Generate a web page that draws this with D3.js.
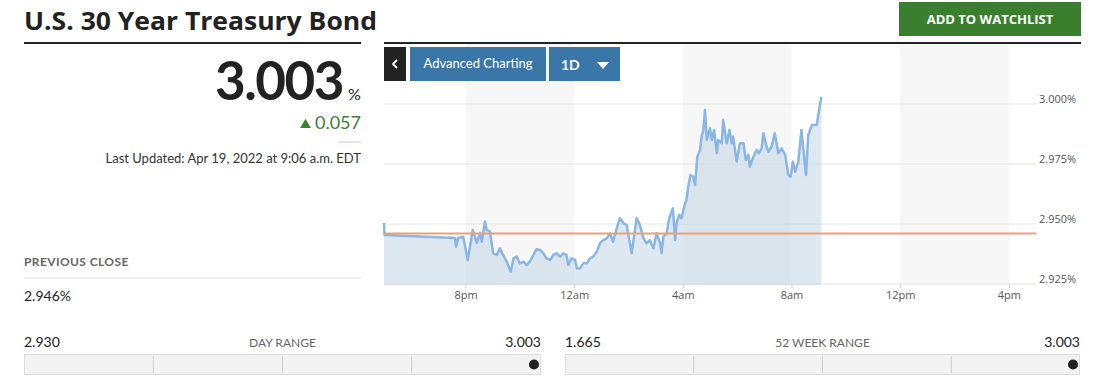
<!DOCTYPE html>
<html>
<head>
<meta charset="utf-8">
<script src="https://cdn.jsdelivr.net/npm/d3@7"></script>
<style>
  body { margin: 0; background: #fff; }
  svg { display: block; font-family: Lato, "Open Sans", sans-serif; }
</style>
</head>
<body>
<div id="chart"></div>
<script>
// Quote data
var title = "U.S. 30 Year Treasury Bond";
var lastPrice = "3.003";
var change = "0.057";
var lastUpdated = "Last Updated: Apr 19, 2022 at 9:06 a.m. EDT";
var previousClose = 2.946;
var dayRange = [2.930, 3.003];
var weekRange = [1.665, 3.003];

// Intraday yield (time of day, yield %)
var times = ["17:00", "17:01", "19:37", "19:39", "19:44", "19:55", "20:05", "20:16", "20:25", "20:32",
  "20:36", "20:43", "20:47", "20:54", "21:01", "21:09", "21:16", "21:23", "21:31", "21:40",
  "21:46", "21:53", "22:00", "22:08", "22:15", "22:22", "22:30", "22:37", "22:45", "22:52",
  "22:59", "23:07", "23:14", "23:21", "23:29", "23:36", "23:43", "23:47", "23:54", "00:02",
  "00:06", "00:13", "00:20", "00:28", "00:35", "00:42", "00:50", "00:57", "01:04", "01:12",
  "01:19", "01:26", "01:34", "01:41", "01:49", "01:56", "02:03", "02:07", "02:11", "02:18",
  "02:25", "02:33", "02:40", "02:47", "02:55", "03:02", "03:10", "03:13", "03:17", "03:24",
  "03:30", "03:38", "03:43", "03:46", "03:52", "03:57", "04:05", "04:08", "04:12", "04:17",
  "04:23", "04:27", "04:32", "04:38", "04:42", "04:45", "04:49", "04:53", "05:00", "05:04",
  "05:09", "05:15", "05:18", "05:26", "05:29", "05:37", "05:43", "05:48", "05:51", "05:59",
  "06:06", "06:14", "06:19", "06:25", "06:28", "06:36", "06:43", "06:48", "06:54", "06:58",
  "07:04", "07:09", "07:16", "07:23", "07:31", "07:38", "07:46", "07:53", "07:58", "08:03",
  "08:08", "08:15", "08:22", "08:26", "08:32", "08:37", "08:45", "08:56", "08:59", "09:06"];
var yields = [2.9504, 2.9454, 2.9442, 2.9405, 2.9442, 2.9447, 2.9350, 2.9475, 2.9421, 2.9463,
  2.9426, 2.9510, 2.9475, 2.9468, 2.9378, 2.9371, 2.9399, 2.9371, 2.9343, 2.9301,
  2.9357, 2.9364, 2.9336, 2.9343, 2.9329, 2.9343, 2.9371, 2.9395, 2.9392, 2.9378,
  2.9357, 2.9350, 2.9371, 2.9378, 2.9364, 2.9378, 2.9371, 2.9329, 2.9357, 2.9350,
  2.9315, 2.9315, 2.9336, 2.9336, 2.9357, 2.9364, 2.9385, 2.9420, 2.9433, 2.9440,
  2.9461, 2.9426, 2.9482, 2.9524, 2.9503, 2.9496, 2.9420, 2.9378, 2.9433, 2.9524,
  2.9496, 2.9440, 2.9420, 2.9433, 2.9399, 2.9461, 2.9420, 2.9378, 2.9447, 2.9461,
  2.9524, 2.9565, 2.9433, 2.9503, 2.9538, 2.9524, 2.9586, 2.9600, 2.9655, 2.9704,
  2.9697, 2.9663, 2.9780, 2.9808, 2.9871, 2.9885, 2.9975, 2.9850, 2.9899, 2.9850,
  2.9892, 2.9795, 2.9850, 2.9836, 2.9933, 2.9836, 2.9892, 2.9836, 2.9864, 2.9760,
  2.9836, 2.9836, 2.9767, 2.9788, 2.9739, 2.9780, 2.9808, 2.9795, 2.9815, 2.9878,
  2.9829, 2.9801, 2.9822, 2.9878, 2.9795, 2.9815, 2.9788, 2.9704, 2.9697, 2.9760,
  2.9718, 2.9760, 2.9892, 2.9815, 2.9704, 2.9871, 2.9913, 2.9913, 2.9954, 3.0030];

// Axis ticks
var xTickTimes = ["20:00", "00:00", "04:00", "08:00", "12:00", "16:00"];
var xTickLabels = ["8pm", "12am", "4am", "8am", "12pm", "4pm"];
var yTicks = [2.925, 2.950, 2.975, 3.000];

// Times at or after 5pm belong to Apr 18, earlier ones to Apr 19
function toDate(t) {
    var h = +t.slice(0, 2), m = +t.slice(3, 5);
    return new Date(2022, 3, h >= 17 ? 18 : 19, h, m);
}

var data = times.map((t, i) => ({ date: toDate(t), value: yields[i] }));

var width = 1105, height = 390;
var svg = d3.select("#chart").append("svg")
    .attr("width", width)
    .attr("height", height);

// ---------- header ----------
svg.append("text")
    .attr("x", 24).attr("y", 30)
    .attr("font-family", "'Open Sans', sans-serif")
    .attr("font-size", 25).attr("font-weight", 700)
    .attr("textLength", 353).attr("lengthAdjust", "spacingAndGlyphs")
    .attr("fill", "#222")
    .text(title);

svg.append("rect").attr("x", 24).attr("y", 42).attr("width", 337).attr("height", 2).attr("fill", "#222");
svg.append("rect").attr("x", 384).attr("y", 42).attr("width", 697).attr("height", 2).attr("fill", "#222");

svg.append("rect")
    .attr("x", 899).attr("y", 2).attr("width", 182).attr("height", 34)
    .attr("fill", "#3a7f2e");
svg.append("text")
    .attr("x", 990).attr("y", 24)
    .attr("text-anchor", "middle")
    .attr("font-family", "'Open Sans', sans-serif")
    .attr("font-size", 13).attr("font-weight", 700)
    .attr("fill", "#fff")
    .text("ADD TO WATCHLIST");

// ---------- left quote panel ----------
svg.append("text")
    .attr("x", 343).attr("y", 100)
    .attr("text-anchor", "end")
    .attr("font-size", 53).attr("font-weight", 700)
    .attr("letter-spacing", -1.5)
    .attr("fill", "#222")
    .text(lastPrice);
svg.append("text")
    .attr("x", 348).attr("y", 100)
    .attr("font-size", 16)
    .attr("fill", "#222")
    .text("%");

svg.append("path")
    .attr("d", "M300,128 L305.5,119 L311,128 Z")
    .attr("fill", "#3b8132");
svg.append("text")
    .attr("x", 361).attr("y", 129)
    .attr("text-anchor", "end")
    .attr("font-size", 18)
    .attr("fill", "#3b8132")
    .text(change);

svg.append("line")
    .attr("x1", 339).attr("x2", 361).attr("y1", 142).attr("y2", 142)
    .attr("stroke", "#ccc");

svg.append("text")
    .attr("x", 361).attr("y", 163)
    .attr("text-anchor", "end")
    .attr("font-size", 13)
    .attr("fill", "#333")
    .text(lastUpdated);

svg.append("text")
    .attr("x", 24).attr("y", 266)
    .attr("font-size", 12).attr("font-weight", 700)
    .attr("letter-spacing", 0.4)
    .attr("fill", "#666")
    .text("PREVIOUS CLOSE");
svg.append("line")
    .attr("x1", 24).attr("x2", 361).attr("y1", 278).attr("y2", 278)
    .attr("stroke", "#ddd");
svg.append("text")
    .attr("x", 24).attr("y", 301)
    .attr("font-size", 14)
    .attr("fill", "#222")
    .text(previousClose.toFixed(3) + "%");

// ---------- chart ----------
var plot = { left: 384, right: 1036, top: 44, bottom: 284 };

var x = d3.scaleTime()
    .domain([new Date(2022, 3, 18, 17, 0), new Date(2022, 3, 19, 17, 0)])
    .range([plot.left, plot.right]);
var y = d3.scaleLinear()
    .domain([2.925, 3.000])
    .range([plot.bottom, 104]);

var tickDates = xTickTimes.map(toDate);

// shaded 4-hour bands: 8pm-12am, 4am-8am, 12pm-4pm
var bands = [[tickDates[0], tickDates[1]], [tickDates[2], tickDates[3]], [tickDates[4], tickDates[5]]];
svg.append("g").selectAll("rect")
    .data(bands)
    .join("rect")
    .attr("x", d => x(d[0]))
    .attr("width", d => x(d[1]) - x(d[0]))
    .attr("y", plot.top)
    .attr("height", plot.bottom - plot.top)
    .attr("fill", "#f7f7f7");

// horizontal grid
svg.append("g").selectAll("line")
    .data(yTicks)
    .join("line")
    .attr("x1", plot.left).attr("x2", plot.right)
    .attr("y1", d => y(d)).attr("y2", d => y(d))
    .attr("stroke", "#e4e4e4")
    .attr("stroke-width", 1);

// y labels
var yAxis = svg.append("g")
    .attr("transform", "translate(" + (plot.right + 3) + ",0)")
    .call(d3.axisRight(y).tickValues(yTicks).tickSize(0).tickPadding(0)
        .tickFormat(d => d.toFixed(3) + "%"));
yAxis.select(".domain").remove();
yAxis.selectAll("text")
    .attr("font-family", "'Open Sans', sans-serif")
    .attr("font-size", 11)
    .attr("fill", "#555")
    .attr("dy", "-0.1em");

// x axis
var xAxis = svg.append("g")
    .attr("transform", "translate(0," + plot.bottom + ")")
    .call(d3.axisBottom(x).tickValues(tickDates).tickSize(4).tickPadding(3)
        .tickFormat((d, i) => xTickLabels[i]));
xAxis.select(".domain").remove();
xAxis.selectAll("line").attr("stroke", "#ccc");
xAxis.selectAll("text")
    .attr("font-family", "'Open Sans', sans-serif")
    .attr("font-size", 11)
    .attr("fill", "#555");

// area + line
var area = d3.area()
    .x(d => x(d.date))
    .y0(plot.bottom + 1)
    .y1(d => y(d.value));
svg.append("path")
    .attr("d", area(data))
    .attr("fill", "rgba(190,210,228,0.5)");

var line = d3.line()
    .x(d => x(d.date))
    .y(d => y(d.value));
svg.append("path")
    .attr("d", line(data))
    .attr("fill", "none")
    .attr("stroke", "#8ab6e3")
    .attr("stroke-width", 2.5)
    .attr("stroke-linejoin", "round");

// previous close line
svg.append("line")
    .attr("x1", plot.left).attr("x2", plot.right)
    .attr("y1", y(previousClose)).attr("y2", y(previousClose))
    .attr("stroke", "#e8a27e")
    .attr("stroke-width", 2);

// chart buttons
svg.append("rect").attr("x", 384).attr("y", 47).attr("width", 22).attr("height", 34).attr("fill", "#222");
svg.append("path")
    .attr("d", "M397,60 L393,64 L397,68")
    .attr("fill", "none").attr("stroke", "#fff").attr("stroke-width", 1.8);

svg.append("rect").attr("x", 410).attr("y", 47).attr("width", 136).attr("height", 34).attr("fill", "#3a76a7");
svg.append("text")
    .attr("x", 478).attr("y", 68)
    .attr("text-anchor", "middle")
    .attr("font-size", 13)
    .attr("fill", "#fff")
    .text("Advanced Charting");

svg.append("rect").attr("x", 549).attr("y", 47).attr("width", 71).attr("height", 34).attr("fill", "#3a76a7");
svg.append("text")
    .attr("x", 561).attr("y", 70)
    .attr("font-size", 14).attr("font-weight", 700)
    .attr("fill", "#fff")
    .text("1D");
svg.append("path")
    .attr("d", "M597,62 L609,62 L603,69 Z")
    .attr("fill", "#fff");

// ---------- range bars ----------
function rangeBar(x0, x1, label, range, current) {
    var g = svg.append("g");
    var s = d3.scaleLinear().domain(range).range([x0 + 7, x1 - 7]);
    g.append("text").attr("x", x0).attr("y", 347)
        .attr("font-size", 14).attr("fill", "#222")
        .text(range[0].toFixed(3));
    g.append("text").attr("x", x1).attr("y", 347)
        .attr("text-anchor", "end")
        .attr("font-size", 14).attr("fill", "#222")
        .text(range[1].toFixed(3));
    g.append("text").attr("x", (x0 + x1) / 2).attr("y", 347)
        .attr("text-anchor", "middle")
        .attr("font-size", 12).attr("fill", "#666")
        .text(label);
    g.append("rect")
        .attr("x", x0 + 0.5).attr("y", 354.5)
        .attr("width", x1 - x0 - 1).attr("height", 20)
        .attr("fill", "#f2f2f2").attr("stroke", "#ddd");
    g.selectAll("line.div")
        .data([1, 2, 3])
        .join("line")
        .attr("x1", d => x0 + (x1 - x0) * d / 4).attr("x2", d => x0 + (x1 - x0) * d / 4)
        .attr("y1", 356).attr("y2", 373)
        .attr("stroke", "#ccc");
    g.append("circle")
        .attr("cx", s(current)).attr("cy", 364.5).attr("r", 5)
        .attr("fill", "#222");
}
rangeBar(24, 541, "DAY RANGE", dayRange, 3.003);
rangeBar(565, 1080, "52 WEEK RANGE", weekRange, 3.003);
</script>
</body>
</html>
